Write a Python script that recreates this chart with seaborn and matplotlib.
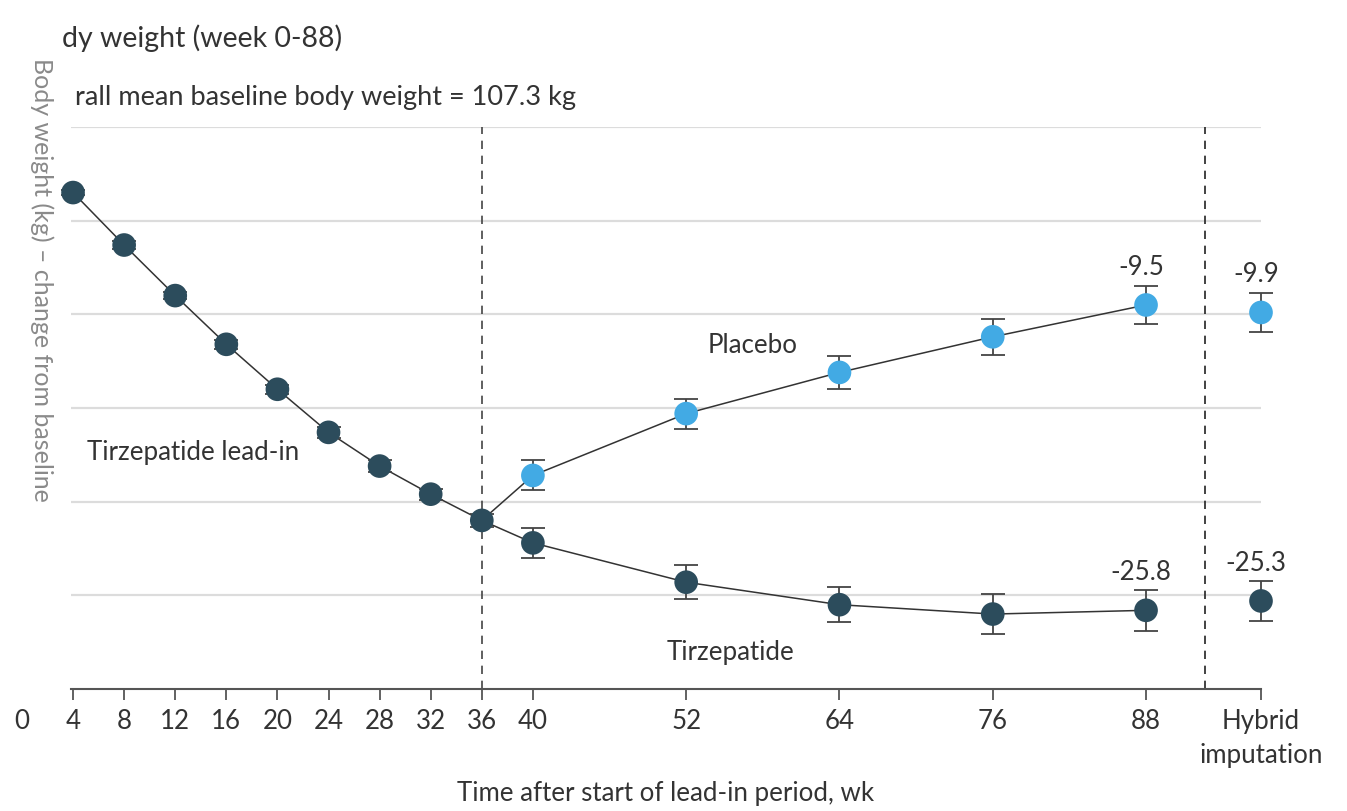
import pandas as pd
import matplotlib.pyplot as plt
import matplotlib.transforms as mtransforms
import seaborn as sns

# --------------------------------
# Data (kg change from baseline)
# --------------------------------
weeks_leadin = [4, 8, 12, 16, 20, 24, 28, 32, 36]
tirz_leadin = [-3.5, -6.3, -9.0, -11.6, -14.0, -16.3, -18.1, -19.6, -21.0]
tirz_leadin_err = [0.15, 0.2, 0.2, 0.25, 0.25, 0.3, 0.3, 0.3, 0.35]

weeks_rand = [40, 52, 64, 76, 88]
tirz_rand = [-22.2, -24.3, -25.5, -26.0, -25.8]
tirz_rand_err = [0.8, 0.9, 0.95, 1.05, 1.1]
placebo_rand = [-18.6, -15.3, -13.1, -11.2, -9.5]
placebo_rand_err = [0.8, 0.8, 0.9, 0.95, 1.0]

hybrid_week = 97
hybrid_tirz = -25.3
hybrid_tirz_err = 1.05
hybrid_placebo = -9.9
hybrid_placebo_err = 1.05

x_ticks = [4, 8, 12, 16, 20, 24, 28, 32, 36, 40, 52, 64, 76, 88, hybrid_week]
x_ticklabels = ["4", "8", "12", "16", "20", "24", "28", "32", "36",
                "40", "52", "64", "76", "88", "Hybrid\nimputation"]
y_grid = [0, -5, -10, -15, -20, -25]

DARK = "#2c4c5c"
LIGHT = "#42aae4"
TEXT = "#333333"
FS = 18.6

sns.set_theme(style="white")
plt.rcParams["font.family"] = ["Lato", "DejaVu Sans"]

tirz_line = pd.DataFrame({"week": weeks_leadin + weeks_rand,
                          "change": tirz_leadin + tirz_rand})
placebo_line = pd.DataFrame({"week": [weeks_leadin[-1]] + weeks_rand,
                             "change": [tirz_leadin[-1]] + placebo_rand})
dark_pts = pd.DataFrame({"week": weeks_leadin + weeks_rand + [hybrid_week],
                         "change": tirz_leadin + tirz_rand + [hybrid_tirz],
                         "err": tirz_leadin_err + tirz_rand_err + [hybrid_tirz_err]})
light_pts = pd.DataFrame({"week": weeks_rand + [hybrid_week],
                          "change": placebo_rand + [hybrid_placebo],
                          "err": placebo_rand_err + [hybrid_placebo_err]})

fig = plt.figure(figsize=(13.47, 8.12), dpi=100)
ax = fig.add_axes([71 / 1347, 122 / 812, (1261 - 71) / 1347, (690 - 128) / 812])

for g in y_grid:
    ax.axhline(g, color="#dcdcdc", lw=1.6, zorder=0)
ax.axvline(36, color="#444444", lw=1.2, ls=(0, (5, 4)), zorder=1)
ax.axvline(92.6, color="#222222", lw=1.2, ls=(0, (5, 4)), zorder=1)

sns.lineplot(data=tirz_line, x="week", y="change", color="#333333", lw=1.1, ax=ax, zorder=2)
sns.lineplot(data=placebo_line, x="week", y="change", color="#333333", lw=1.1, ax=ax, zorder=2)

for pts in [dark_pts, light_pts]:
    ax.errorbar(pts["week"], pts["change"], yerr=pts["err"], fmt="none",
                ecolor="#444444", elinewidth=1.3, capsize=8.5, capthick=1.3,
                zorder=3, clip_on=False)

sns.scatterplot(data=dark_pts, x="week", y="change", color=DARK, s=290,
                edgecolor="none", ax=ax, zorder=4)
sns.scatterplot(data=light_pts, x="week", y="change", color=LIGHT, s=290,
                edgecolor="none", ax=ax, zorder=4)
for c in ax.collections:
    c.set_clip_on(False)

ax.set_xlim(3.84, hybrid_week)
ax.set_ylim(-30, 0)
ax.set_xticks(x_ticks)
ax.set_xticklabels(x_ticklabels, fontsize=FS, color=TEXT, linespacing=1.45)
ax.set_yticks([])
ax.set_xlabel("Time after start of lead-in period, wk", fontsize=FS, color=TEXT, labelpad=9)
ax.set_ylabel("")
ax.tick_params(axis="x", bottom=True, direction="out", length=8, width=1.3,
               color="#555555", pad=6)
for s in ["top", "left", "right"]:
    ax.spines[s].set_visible(False)
ax.spines["bottom"].set_color("#555555")
ax.spines["bottom"].set_linewidth(1.5)

# partly visible 0 tick label at the cropped left edge
trans = mtransforms.blended_transform_factory(ax.transData, ax.transAxes)
ax.text(0, -0.033, "0", transform=trans, ha="center", va="top",
        fontsize=FS, color=TEXT, clip_on=False)

# annotations
ax.text(13.4, -17.3, "Tirzepatide lead-in", fontsize=FS, color=TEXT, ha="center", va="center")
ax.text(57.2, -11.6, "Placebo", fontsize=FS, color=TEXT, ha="center", va="center")
ax.text(55.5, -28.0, "Tirzepatide", fontsize=FS, color=TEXT, ha="center", va="center")
for x, y in [(88, placebo_rand[-1]), (hybrid_week, hybrid_placebo),
             (88, tirz_rand[-1]), (hybrid_week, hybrid_tirz)]:
    ax.text(x - 0.4, y + 1.4, f"{y:.1f}", fontsize=FS, color=TEXT, ha="center", va="bottom")

# titles (cropped in the source)
fig.text(62 / 1347, 1 - 38 / 812, "dy weight (week 0-88)", fontsize=20.5, color=TEXT,
         ha="left", va="center")
fig.text(75 / 1347, 1 - 97 / 812, "rall mean baseline body weight = 107.3 kg", fontsize=19.5,
         color=TEXT, ha="left", va="center")
fig.text(42 / 1347, 1 - 280 / 812, "Body weight (kg) – change from baseline", fontsize=18,
         color="#8a8a8a", rotation=-90, ha="center", va="center")

plt.savefig("out.png", dpi=100)
